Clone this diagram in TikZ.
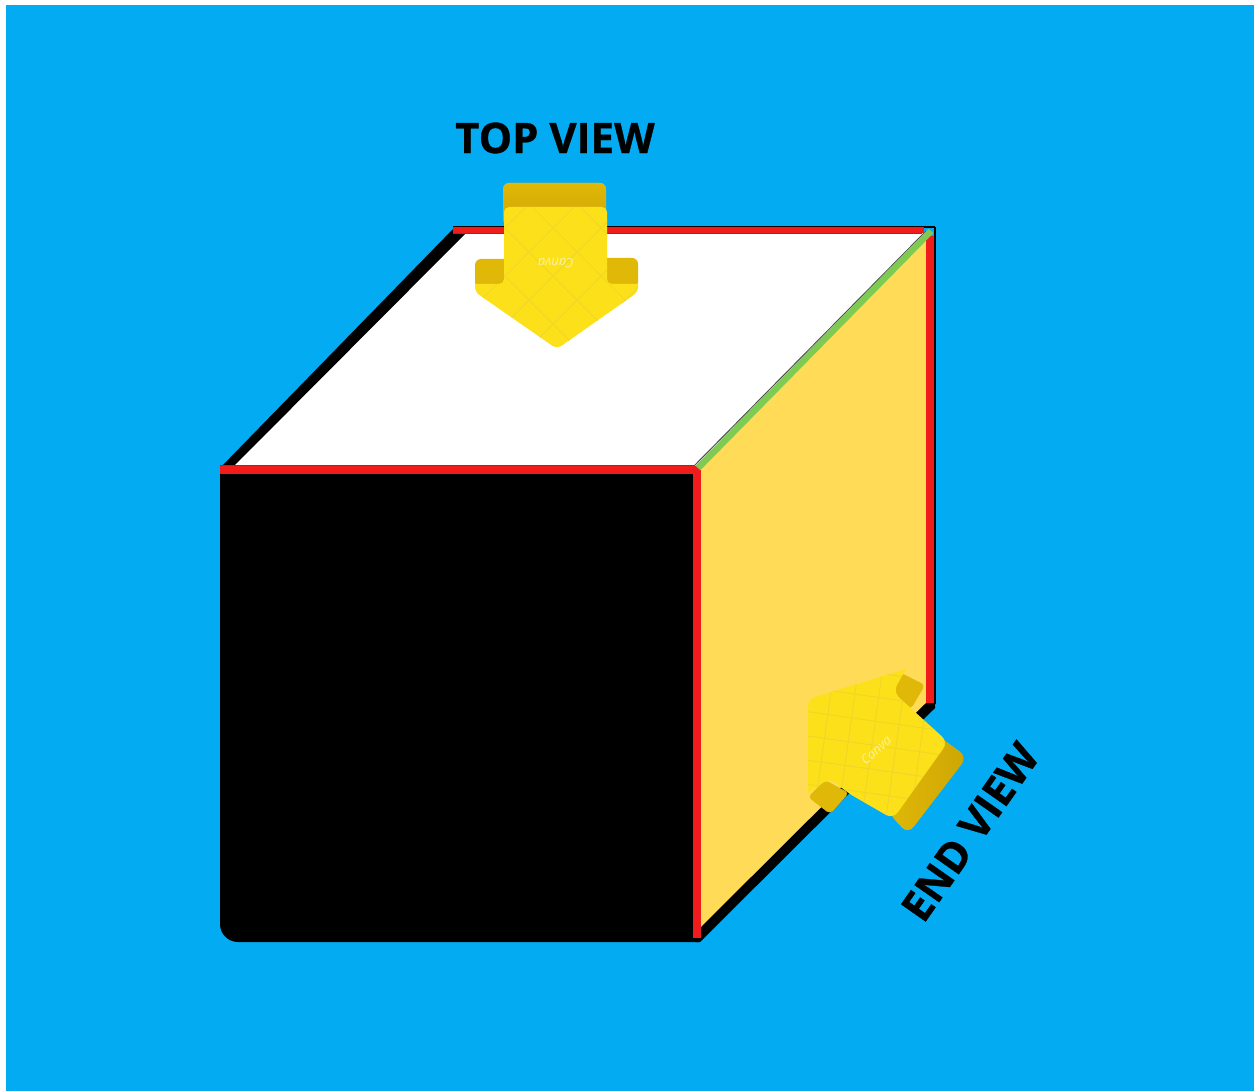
\documentclass[tikz,border=0pt]{standalone}
\usepackage{fontspec}
\usepackage{xcolor}
\setmainfont{Open Sans}[BoldFeatures={FakeBold=0.7}]
\definecolor{SkyBlue}{RGB}{3,172,242}
\definecolor{EdgeRed}{RGB}{240,28,28}
\definecolor{EdgeGreen}{RGB}{126,203,84}
\definecolor{FaceYellow}{RGB}{255,219,88}
\definecolor{ArrowYellow}{RGB}{252,225,26}
\definecolor{ArrowDark}{RGB}{224,184,8}
\definecolor{ArrowDeep}{RGB}{206,166,4}
\definecolor{ArrowGrid}{RGB}{240,214,40}
\tikzset{
  redge/.style={draw=EdgeRed,line width=8pt},
  gedge/.style={draw=EdgeGreen,line width=6.5pt},
  aside/.style={fill=ArrowDark,rounded corners=6pt},
  agrid/.style={draw=ArrowGrid,line width=1pt},
  vlabel/.style={font=\fontsize{42}{42}\selectfont\bfseries,text=black,inner sep=0pt},
  wmark/.style={font=\fontsize{13}{13}\selectfont\itshape,text=white,opacity=0.55,inner sep=0pt},
}
\begin{document}
\begin{tikzpicture}[x=1pt,y=-1pt]
  \useasboundingbox (0,0) rectangle (1254,1091);
  % background
  \fill[SkyBlue] (6,5) rectangle (1254,1091);

  % cube faces
  \fill[white] (222,470) -- (458,232) -- (930,232) -- (697,470) -- cycle;
  \fill[FaceYellow] (697,470) -- (930,232) -- (930,704) -- (697,938) -- cycle;
  \fill[black] (220,470) -- (220,924) arc[start angle=180,end angle=90,x radius=18pt,y radius=-18pt] -- (699,942) -- (699,470) -- cycle;

  % cube edges
  \fill[black] (220,468) -- (454,228) -- (467,232) -- (232,468) -- cycle;
  \fill[black] (696,942) -- (700,942) -- (935,708) -- (935,702) -- (927,702) -- (696,932) -- cycle;
  \draw[draw=black,line width=2pt] (934.5,227) -- (934.5,704);
  \draw[draw=black,line width=2pt] (453,227) -- (935,227);
  \draw[draw=black!70,line width=1pt] (220,465.5) -- (695,465.5);
  \draw[draw=black!70,line width=1pt] (453,233.5) -- (922,233.5);
  \draw[draw=black!70,line width=1pt] (694,466) -- (926,231);
  \draw[draw=EdgeRed,line width=6pt] (453,230) -- (924,230);
  \draw[redge] (220,470) -- (701,470);
  \draw[redge] (697,466) -- (697,938);
  \draw[redge] (930,236) -- (930,703);
  \draw[gedge] (698,468) -- (931,231);

  % top arrow
  \fill[aside,top color=ArrowDark,bottom color=ArrowDeep] (503,225) -- (503,183) -- (606,183) -- (606,225) -- cycle;
  \fill[aside] (475,288) -- (475,259) -- (510,259) -- (510,288) -- cycle;
  \fill[aside] (600,288) -- (600,258) -- (638,258) -- (638,288) -- cycle;
  \def\toparrow{(504,207) -- (607,207) -- (607,284) [sharp corners] -- (638,284) [rounded corners=5pt] -- (638,292) -- (557,349) -- (475,292) [sharp corners] -- (475,284) [rounded corners=5pt] -- (504,284) -- cycle}
  \begin{scope}
    \clip[rounded corners=5pt] \toparrow;
    \fill[ArrowYellow] (460,200) rectangle (650,350);
    \begin{scope}[shift={(553,228)},rotate=45]
      \foreach \i in {-4,...,4} {
        \draw[agrid] (\i*34,-170) -- (\i*34,170);
        \draw[agrid] (-170,\i*34) -- (170,\i*34);
      }
    \end{scope}
  \end{scope}
  \node[wmark,rotate=180] (topmark) at (556,263) {Canva};

  % end arrow
  \fill[aside,rounded corners=4pt] (899,672) -- (925,685) -- (911,709) -- (885,695) -- cycle;
  \fill[aside,rounded corners=4pt] (825,780) -- (849,793) -- (830,814) -- (808,797) -- cycle;
  \fill[aside,rounded corners=9pt,left color=ArrowDark,right color=ArrowDeep] (930,730) -- (967,757) -- (908,834) -- (888,812) -- cycle;
  \def\endarrow{(808,699) [sharp corners] -- (906,669) [rounded corners=8pt] -- (893,692) -- (948,742) -- (893,819) -- (848,793) -- (830,778) [sharp corners] -- (808,793) [rounded corners=8pt] -- cycle}
  \begin{scope}
    \clip[rounded corners=8pt] \endarrow;
    \fill[ArrowYellow] (790,650) rectangle (960,830);
    \begin{scope}[shift={(872,745)},rotate=-8]
      \foreach \i in {-4,...,4} {
        \draw[agrid] (\i*24,-110) -- (\i*24,110);
        \draw[agrid] (-110,\i*24) -- (110,\i*24);
      }
    \end{scope}
  \end{scope}
  \node[wmark,rotate=42] (endmark) at (876,750) {Canva};

  % labels
  \node[vlabel] (topview) at (555,138) {TOP VIEW};
  \node[vlabel,rotate=55] (endview) at (970,832) {END VIEW};
\end{tikzpicture}
\end{document}
